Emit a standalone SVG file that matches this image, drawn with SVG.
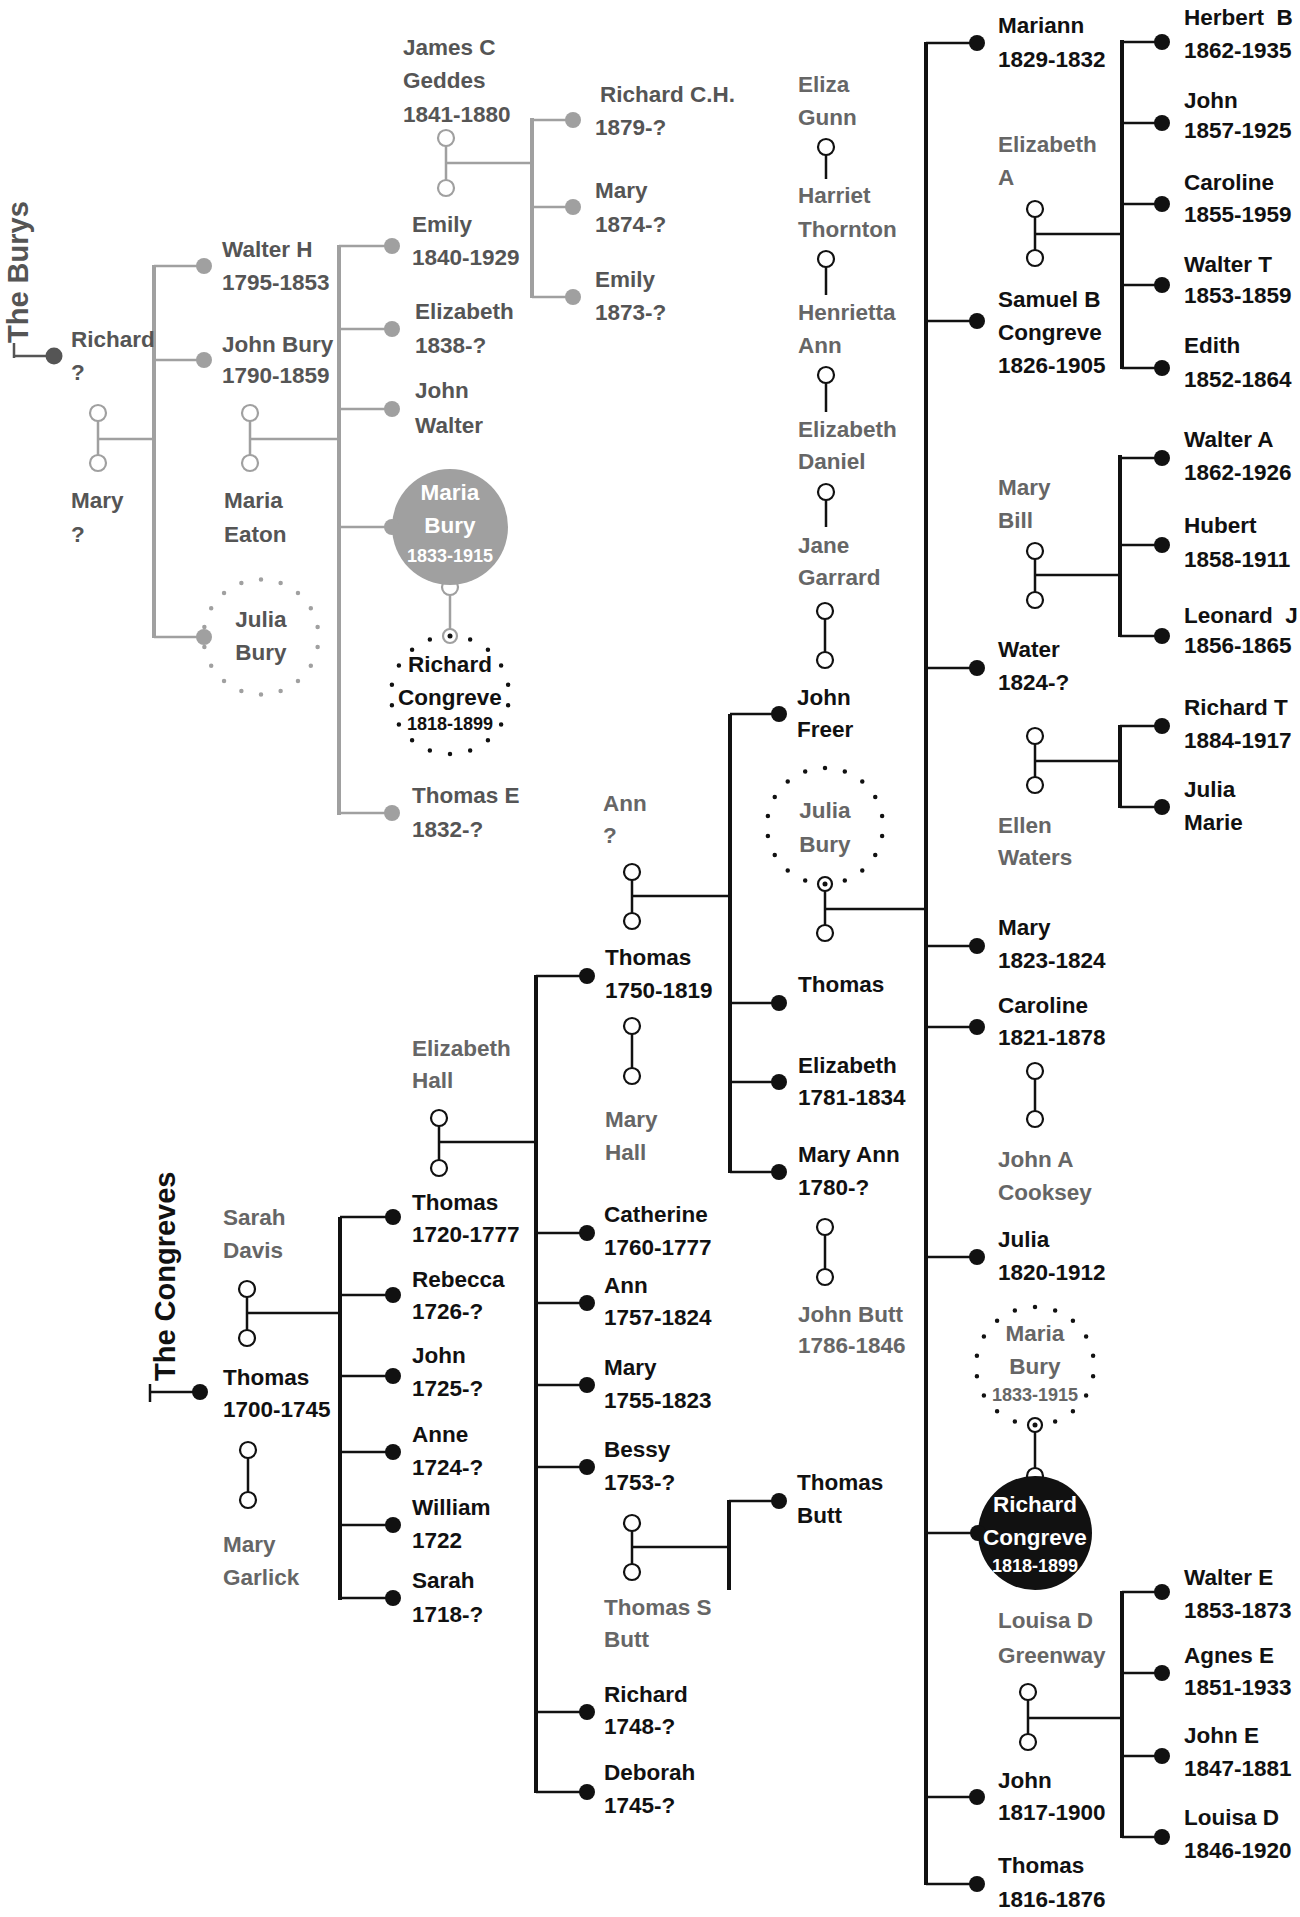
<svg xmlns="http://www.w3.org/2000/svg" width="1300" height="1917" viewBox="0 0 1300 1917">
<style>
.t{font-family:"Liberation Sans",Arial,Helvetica,sans-serif;font-weight:700;font-size:22.5px;fill:#111}
.bg{fill:#555}
.sp{fill:#666}
.wh{fill:#fff}
.f18{font-size:18px}
.c{text-anchor:middle}
.ttl{font-size:29px}
.bus{stroke:#111;stroke-width:4;fill:none}
.br{stroke:#111;stroke-width:2.5;fill:none}
.gbus{stroke:#a0a0a0;stroke-width:4;fill:none}
.gbr{stroke:#a0a0a0;stroke-width:2.5;fill:none}
.dot{fill:#111}
.gdot{fill:#a0a0a0}
.ring{fill:#fff;stroke:#111;stroke-width:2.2}
.gring{fill:#fff;stroke:#a0a0a0;stroke-width:2.2}
.dots{fill:none;stroke:#111;stroke-width:4.5;stroke-linecap:round;stroke-dasharray:0 20;stroke-dashoffset:10}
.gdots{fill:none;stroke:#a0a0a0;stroke-width:4.5;stroke-linecap:round;stroke-dasharray:0 20;stroke-dashoffset:10}
</style>
<rect width="1300" height="1917" fill="#fff"/>

<g id="connectors">
  <!-- Burys -->
  <path d="M14 343V358M14 356H54" stroke="#555" stroke-width="2.5" fill="none"/>
  <line class="gbus" x1="154" y1="265" x2="154" y2="638"/>
  <path class="gbr" d="M154 266H204M154 360H204M154 637H204M98 439H154M98 413V463M250 439H339M250 413V463"/>
  <line class="gbus" x1="339" y1="245" x2="339" y2="815"/>
  <path class="gbr" d="M339 246H392M339 329H392M339 409H392M339 527H392M339 813H392"/>
  <path class="gbr" d="M446 138V188M446 163H532"/>
  <line class="gbus" x1="532" y1="118" x2="532" y2="298"/>
  <path class="gbr" d="M532 120H573M532 207H573M532 297H573"/>
  <path class="gbr" d="M450 587V629"/>
  <circle class="gring" cx="98" cy="413" r="8"/>
  <circle class="gring" cx="98" cy="463" r="8"/>
  <circle class="gring" cx="250" cy="413" r="8"/>
  <circle class="gring" cx="250" cy="463" r="8"/>
  <circle class="gring" cx="446" cy="138" r="8"/>
  <circle class="gring" cx="446" cy="188" r="8"/>
  <circle class="gring" cx="450" cy="587" r="8"/>

  <!-- Congreves -->
  <path d="M150 1384V1402M150 1392H200" stroke="#111" stroke-width="2.5" fill="none"/>
  <line class="bus" x1="340" y1="1217" x2="340" y2="1600"/>
  <path class="br" d="M340 1217H393M340 1295H393M340 1376H393M340 1452H393M340 1525H393M340 1598H393M247 1313H340M247 1289V1338M248 1450V1500"/>
  <line class="bus" x1="536" y1="975" x2="536" y2="1793"/>
  <path class="br" d="M536 976H587M536 1233H587M536 1303H587M536 1385H587M536 1467H587M536 1712H587M536 1792H587M439 1142H536M439 1118V1168"/>
  <line class="bus" x1="730" y1="714" x2="730" y2="1173"/>
  <path class="br" d="M730 714H779M730 1003H779M730 1082H779M730 1172H779M632 896H730M632 872V921M632 1026V1076"/>
  <line class="bus" x1="729" y1="1500" x2="729" y2="1590"/>
  <path class="br" d="M729 1501H779M632 1547H729M632 1523V1572"/>
  <path class="br" d="M826 155V179M826 267V295M826 383V412M826 500V527M825 611V660M825 891V933M825 909H926M825 1227V1277"/>
  <line class="bus" x1="926" y1="42" x2="926" y2="1885"/>
  <path class="br" d="M926 43H977M926 321H977M926 668H977M926 946H977M926 1027H977M926 1257H977M926 1533H978M926 1797H977M926 1884H977"/>
  <path class="br" d="M1035 209V258M1035 234H1122M1035 551V600M1035 575H1120M1035 736V785M1035 761H1120M1035 1071V1119M1028 1692V1742M1028 1718H1122M1035 1432V1476"/>
  <line class="bus" x1="1122" y1="40" x2="1122" y2="369"/>
  <path class="br" d="M1122 42H1162M1122 123H1162M1122 204H1162M1122 285H1162M1122 368H1162"/>
  <line class="bus" x1="1120" y1="455" x2="1120" y2="637"/>
  <path class="br" d="M1120 458H1162M1120 545H1162M1120 636H1162"/>
  <line class="bus" x1="1120" y1="725" x2="1120" y2="808"/>
  <path class="br" d="M1120 726H1162M1120 807H1162"/>
  <line class="bus" x1="1122" y1="1591" x2="1122" y2="1838"/>
  <path class="br" d="M1122 1592H1162M1122 1673H1162M1122 1756H1162M1122 1837H1162"/>
  <circle class="ring" cx="826" cy="147" r="8"/>
  <circle class="ring" cx="826" cy="259" r="8"/>
  <circle class="ring" cx="826" cy="375" r="8"/>
  <circle class="ring" cx="826" cy="492" r="8"/>
  <circle class="ring" cx="825" cy="611" r="8"/>
  <circle class="ring" cx="825" cy="660" r="8"/>
  <circle class="ring" cx="825" cy="933" r="8"/>
  <circle class="ring" cx="825" cy="1227" r="8"/>
  <circle class="ring" cx="825" cy="1277" r="8"/>
  <circle class="ring" cx="632" cy="872" r="8"/>
  <circle class="ring" cx="632" cy="921" r="8"/>
  <circle class="ring" cx="632" cy="1026" r="8"/>
  <circle class="ring" cx="632" cy="1076" r="8"/>
  <circle class="ring" cx="632" cy="1523" r="8"/>
  <circle class="ring" cx="632" cy="1572" r="8"/>
  <circle class="ring" cx="439" cy="1118" r="8"/>
  <circle class="ring" cx="439" cy="1168" r="8"/>
  <circle class="ring" cx="247" cy="1289" r="8"/>
  <circle class="ring" cx="247" cy="1338" r="8"/>
  <circle class="ring" cx="248" cy="1450" r="8"/>
  <circle class="ring" cx="248" cy="1500" r="8"/>
  <circle class="ring" cx="1035" cy="209" r="8"/>
  <circle class="ring" cx="1035" cy="258" r="8"/>
  <circle class="ring" cx="1035" cy="551" r="8"/>
  <circle class="ring" cx="1035" cy="600" r="8"/>
  <circle class="ring" cx="1035" cy="736" r="8"/>
  <circle class="ring" cx="1035" cy="785" r="8"/>
  <circle class="ring" cx="1035" cy="1071" r="8"/>
  <circle class="ring" cx="1035" cy="1119" r="8"/>
  <circle class="ring" cx="1028" cy="1692" r="8"/>
  <circle class="ring" cx="1028" cy="1742" r="8"/>
  <circle class="ring" cx="1035" cy="1476" r="8"/>
</g>

<!-- ===== The Burys ===== -->
<g id="title-burys"><text class="t bg ttl" transform="translate(28 343) rotate(-90)">The Burys</text></g>
<g id="n-richard-bury"><circle cx="54" cy="356" r="8.5" fill="#555"/><text class="t bg"><tspan x="71" y="347">Richard</tspan><tspan x="71" y="380">?</tspan></text></g>
<g id="n-mary-bury"><text class="t bg"><tspan x="71" y="508">Mary</tspan><tspan x="71" y="542">?</tspan></text></g>
<g id="n-walter-h"><circle class="gdot" cx="204" cy="266" r="8"/><text class="t bg"><tspan x="222" y="257">Walter H</tspan><tspan x="222" y="290">1795-1853</tspan></text></g>
<g id="n-john-bury"><circle class="gdot" cx="204" cy="360" r="8"/><text class="t bg"><tspan x="222" y="352">John Bury</tspan><tspan x="222" y="383">1790-1859</tspan></text></g>
<g id="n-maria-eaton"><text class="t bg"><tspan x="224" y="508">Maria</tspan><tspan x="224" y="542">Eaton</tspan></text></g>
<g id="n-julia-bury-1"><circle class="gdots" cx="261" cy="637" r="57.5" pathLength="360"/><circle class="gdot" cx="204" cy="637" r="8"/><text class="t bg c"><tspan x="261" y="627">Julia</tspan><tspan x="261" y="660">Bury</tspan></text></g>
<g id="n-james-geddes"><text class="t bg"><tspan x="403" y="55">James C</tspan><tspan x="403" y="88">Geddes</tspan><tspan x="403" y="122">1841-1880</tspan></text></g>
<g id="n-emily-1840"><circle class="gdot" cx="392" cy="246" r="8"/><text class="t bg"><tspan x="412" y="232">Emily</tspan><tspan x="412" y="265">1840-1929</tspan></text></g>
<g id="n-elizabeth-1838"><circle class="gdot" cx="392" cy="329" r="8"/><text class="t bg"><tspan x="415" y="319">Elizabeth</tspan><tspan x="415" y="353">1838-?</tspan></text></g>
<g id="n-john-walter"><circle class="gdot" cx="392" cy="409" r="8"/><text class="t bg"><tspan x="415" y="398">John</tspan><tspan x="415" y="433">Walter</tspan></text></g>
<g id="n-maria-bury-1"><circle cx="450" cy="527" r="58" fill="#a0a0a0"/><circle class="gdot" cx="392" cy="527" r="8"/><text class="t wh c"><tspan x="450" y="500">Maria</tspan><tspan x="450" y="533">Bury</tspan><tspan x="450" y="562" class="f18">1833-1915</tspan></text></g>
<g id="n-richard-congreve-1"><circle class="dots" cx="450" cy="695" r="59" pathLength="360"/><circle cx="450" cy="636" r="7" fill="#fff" stroke="#a0a0a0" stroke-width="2.2"/><circle class="dot" cx="450" cy="636" r="2.5"/><text class="t c"><tspan x="450" y="672">Richard</tspan><tspan x="450" y="705">Congreve</tspan><tspan x="450" y="730" class="f18">1818-1899</tspan></text></g>
<g id="n-thomas-e"><circle class="gdot" cx="392" cy="813" r="8"/><text class="t bg"><tspan x="412" y="803">Thomas E</tspan><tspan x="412" y="837">1832-?</tspan></text></g>
<g id="n-richard-ch"><circle class="gdot" cx="573" cy="120" r="8"/><text class="t bg"><tspan x="600" y="102">Richard C.H.</tspan><tspan x="595" y="135">1879-?</tspan></text></g>
<g id="n-mary-1874"><circle class="gdot" cx="573" cy="207" r="8"/><text class="t bg"><tspan x="595" y="198">Mary</tspan><tspan x="595" y="232">1874-?</tspan></text></g>
<g id="n-emily-1873"><circle class="gdot" cx="573" cy="297" r="8"/><text class="t bg"><tspan x="595" y="287">Emily</tspan><tspan x="595" y="320">1873-?</tspan></text></g>

<!-- ===== The Congreves ===== -->
<g id="title-congreves"><text class="t ttl" transform="translate(175 1381) rotate(-90)">The Congreves</text></g>
<g id="n-sarah-davis"><text class="t sp"><tspan x="223" y="1225">Sarah</tspan><tspan x="223" y="1258">Davis</tspan></text></g>
<g id="n-thomas-1700"><circle class="dot" cx="200" cy="1392" r="8"/><text class="t"><tspan x="223" y="1385">Thomas</tspan><tspan x="223" y="1417">1700-1745</tspan></text></g>
<g id="n-mary-garlick"><text class="t sp"><tspan x="223" y="1552">Mary</tspan><tspan x="223" y="1585">Garlick</tspan></text></g>

<g id="n-elizabeth-hall"><text class="t sp"><tspan x="412" y="1056">Elizabeth</tspan><tspan x="412" y="1088">Hall</tspan></text></g>
<g id="n-thomas-1720"><circle class="dot" cx="393" cy="1217" r="8"/><text class="t"><tspan x="412" y="1210">Thomas</tspan><tspan x="412" y="1242">1720-1777</tspan></text></g>
<g id="n-rebecca"><circle class="dot" cx="393" cy="1295" r="8"/><text class="t"><tspan x="412" y="1287">Rebecca</tspan><tspan x="412" y="1319">1726-?</tspan></text></g>
<g id="n-john-1725"><circle class="dot" cx="393" cy="1376" r="8"/><text class="t"><tspan x="412" y="1363">John</tspan><tspan x="412" y="1396">1725-?</tspan></text></g>
<g id="n-anne-1724"><circle class="dot" cx="393" cy="1452" r="8"/><text class="t"><tspan x="412" y="1442">Anne</tspan><tspan x="412" y="1475">1724-?</tspan></text></g>
<g id="n-william-1722"><circle class="dot" cx="393" cy="1525" r="8"/><text class="t"><tspan x="412" y="1515">William</tspan><tspan x="412" y="1548">1722</tspan></text></g>
<g id="n-sarah-1718"><circle class="dot" cx="393" cy="1598" r="8"/><text class="t"><tspan x="412" y="1588">Sarah</tspan><tspan x="412" y="1622">1718-?</tspan></text></g>

<g id="n-ann-q"><text class="t sp"><tspan x="603" y="811">Ann</tspan><tspan x="603" y="843">?</tspan></text></g>
<g id="n-thomas-1750"><circle class="dot" cx="587" cy="976" r="8"/><text class="t"><tspan x="605" y="965">Thomas</tspan><tspan x="605" y="998">1750-1819</tspan></text></g>
<g id="n-mary-hall"><text class="t sp"><tspan x="605" y="1127">Mary</tspan><tspan x="605" y="1160">Hall</tspan></text></g>
<g id="n-catherine"><circle class="dot" cx="587" cy="1233" r="8"/><text class="t"><tspan x="604" y="1222">Catherine</tspan><tspan x="604" y="1255">1760-1777</tspan></text></g>
<g id="n-ann-1757"><circle class="dot" cx="587" cy="1303" r="8"/><text class="t"><tspan x="604" y="1293">Ann</tspan><tspan x="604" y="1325">1757-1824</tspan></text></g>
<g id="n-mary-1755"><circle class="dot" cx="587" cy="1385" r="8"/><text class="t"><tspan x="604" y="1375">Mary</tspan><tspan x="604" y="1408">1755-1823</tspan></text></g>
<g id="n-bessy"><circle class="dot" cx="587" cy="1467" r="8"/><text class="t"><tspan x="604" y="1457">Bessy</tspan><tspan x="604" y="1490">1753-?</tspan></text></g>
<g id="n-thomas-s-butt"><text class="t sp"><tspan x="604" y="1615">Thomas S</tspan><tspan x="604" y="1647">Butt</tspan></text></g>
<g id="n-richard-1748"><circle class="dot" cx="587" cy="1712" r="8"/><text class="t"><tspan x="604" y="1702">Richard</tspan><tspan x="604" y="1734">1748-?</tspan></text></g>
<g id="n-deborah"><circle class="dot" cx="587" cy="1792" r="8"/><text class="t"><tspan x="604" y="1780">Deborah</tspan><tspan x="604" y="1813">1745-?</tspan></text></g>

<g id="n-eliza-gunn"><text class="t sp"><tspan x="798" y="92">Eliza</tspan><tspan x="798" y="125">Gunn</tspan></text></g>
<g id="n-harriet-thornton"><text class="t sp"><tspan x="798" y="203">Harriet</tspan><tspan x="798" y="237">Thornton</tspan></text></g>
<g id="n-henrietta-ann"><text class="t sp"><tspan x="798" y="320">Henrietta</tspan><tspan x="798" y="353">Ann</tspan></text></g>
<g id="n-elizabeth-daniel"><text class="t sp"><tspan x="798" y="437">Elizabeth</tspan><tspan x="798" y="469">Daniel</tspan></text></g>
<g id="n-jane-garrard"><text class="t sp"><tspan x="798" y="553">Jane</tspan><tspan x="798" y="585">Garrard</tspan></text></g>
<g id="n-john-freer"><circle class="dot" cx="779" cy="714" r="8"/><text class="t"><tspan x="797" y="705">John</tspan><tspan x="797" y="737">Freer</tspan></text></g>
<g id="n-julia-bury-2"><circle class="dots" cx="825" cy="826" r="58" pathLength="360"/><circle class="ring" cx="825" cy="884" r="7"/><circle class="dot" cx="825" cy="884" r="2.5"/><text class="t sp c"><tspan x="825" y="818">Julia</tspan><tspan x="825" y="852">Bury</tspan></text></g>
<g id="n-thomas-son"><circle class="dot" cx="779" cy="1003" r="8"/><text class="t" x="798" y="992">Thomas</text></g>
<g id="n-elizabeth-1781"><circle class="dot" cx="779" cy="1082" r="8"/><text class="t"><tspan x="798" y="1073">Elizabeth</tspan><tspan x="798" y="1105">1781-1834</tspan></text></g>
<g id="n-mary-ann-1780"><circle class="dot" cx="779" cy="1172" r="8"/><text class="t"><tspan x="798" y="1162">Mary Ann</tspan><tspan x="798" y="1195">1780-?</tspan></text></g>
<g id="n-john-butt"><text class="t sp"><tspan x="798" y="1322">John Butt</tspan><tspan x="798" y="1353">1786-1846</tspan></text></g>
<g id="n-thomas-butt"><circle class="dot" cx="779" cy="1501" r="8"/><text class="t"><tspan x="797" y="1490">Thomas</tspan><tspan x="797" y="1523">Butt</tspan></text></g>

<g id="n-mariann"><circle class="dot" cx="977" cy="43" r="8"/><text class="t"><tspan x="998" y="33">Mariann</tspan><tspan x="998" y="67">1829-1832</tspan></text></g>
<g id="n-elizabeth-a"><text class="t sp"><tspan x="998" y="152">Elizabeth</tspan><tspan x="998" y="185">A</tspan></text></g>
<g id="n-samuel-b"><circle class="dot" cx="977" cy="321" r="8"/><text class="t"><tspan x="998" y="307">Samuel B</tspan><tspan x="998" y="340">Congreve</tspan><tspan x="998" y="373">1826-1905</tspan></text></g>
<g id="n-mary-bill"><text class="t sp"><tspan x="998" y="495">Mary</tspan><tspan x="998" y="528">Bill</tspan></text></g>
<g id="n-water"><circle class="dot" cx="977" cy="668" r="8"/><text class="t"><tspan x="998" y="657">Water</tspan><tspan x="998" y="690">1824-?</tspan></text></g>
<g id="n-ellen-waters"><text class="t sp"><tspan x="998" y="833">Ellen</tspan><tspan x="998" y="865">Waters</tspan></text></g>
<g id="n-mary-1823"><circle class="dot" cx="977" cy="946" r="8"/><text class="t"><tspan x="998" y="935">Mary</tspan><tspan x="998" y="968">1823-1824</tspan></text></g>
<g id="n-caroline-1821"><circle class="dot" cx="977" cy="1027" r="8"/><text class="t"><tspan x="998" y="1013">Caroline</tspan><tspan x="998" y="1045">1821-1878</tspan></text></g>
<g id="n-john-a-cooksey"><text class="t sp"><tspan x="998" y="1167">John A</tspan><tspan x="998" y="1200">Cooksey</tspan></text></g>
<g id="n-julia-1820"><circle class="dot" cx="977" cy="1257" r="8"/><text class="t"><tspan x="998" y="1247">Julia</tspan><tspan x="998" y="1280">1820-1912</tspan></text></g>
<g id="n-maria-bury-2"><circle class="dots" cx="1035" cy="1366" r="59" pathLength="360"/><circle class="ring" cx="1035" cy="1425" r="7"/><circle class="dot" cx="1035" cy="1425" r="2.5"/><text class="t sp c"><tspan x="1035" y="1341">Maria</tspan><tspan x="1035" y="1374">Bury</tspan><tspan x="1035" y="1401" class="f18">1833-1915</tspan></text></g>
<g id="n-richard-congreve-2"><circle cx="1035" cy="1533" r="57" fill="#111"/><circle class="dot" cx="978" cy="1533" r="8"/><text class="t wh c"><tspan x="1035" y="1512">Richard</tspan><tspan x="1035" y="1545">Congreve</tspan><tspan x="1035" y="1572" class="f18">1818-1899</tspan></text></g>
<g id="n-louisa-greenway"><text class="t sp"><tspan x="998" y="1628">Louisa D</tspan><tspan x="998" y="1663">Greenway</tspan></text></g>
<g id="n-john-1817"><circle class="dot" cx="977" cy="1797" r="8"/><text class="t"><tspan x="998" y="1788">John</tspan><tspan x="998" y="1820">1817-1900</tspan></text></g>
<g id="n-thomas-1816"><circle class="dot" cx="977" cy="1884" r="8"/><text class="t"><tspan x="998" y="1873">Thomas</tspan><tspan x="998" y="1907">1816-1876</tspan></text></g>

<g id="n-herbert-b"><circle class="dot" cx="1162" cy="42" r="8"/><text class="t" xml:space="preserve"><tspan x="1184" y="25">Herbert  B</tspan><tspan x="1184" y="58">1862-1935</tspan></text></g>
<g id="n-john-1857"><circle class="dot" cx="1162" cy="123" r="8"/><text class="t"><tspan x="1184" y="108">John</tspan><tspan x="1184" y="138">1857-1925</tspan></text></g>
<g id="n-caroline-1855"><circle class="dot" cx="1162" cy="204" r="8"/><text class="t"><tspan x="1184" y="190">Caroline</tspan><tspan x="1184" y="222">1855-1959</tspan></text></g>
<g id="n-walter-t"><circle class="dot" cx="1162" cy="285" r="8"/><text class="t"><tspan x="1184" y="272">Walter T</tspan><tspan x="1184" y="303">1853-1859</tspan></text></g>
<g id="n-edith"><circle class="dot" cx="1162" cy="368" r="8"/><text class="t"><tspan x="1184" y="353">Edith</tspan><tspan x="1184" y="387">1852-1864</tspan></text></g>
<g id="n-walter-a"><circle class="dot" cx="1162" cy="458" r="8"/><text class="t"><tspan x="1184" y="447">Walter A</tspan><tspan x="1184" y="480">1862-1926</tspan></text></g>
<g id="n-hubert"><circle class="dot" cx="1162" cy="545" r="8"/><text class="t"><tspan x="1184" y="533">Hubert</tspan><tspan x="1184" y="567">1858-1911</tspan></text></g>
<g id="n-leonard-j"><circle class="dot" cx="1162" cy="636" r="8"/><text class="t" xml:space="preserve"><tspan x="1184" y="623">Leonard  J</tspan><tspan x="1184" y="653">1856-1865</tspan></text></g>
<g id="n-richard-t"><circle class="dot" cx="1162" cy="726" r="8"/><text class="t"><tspan x="1184" y="715">Richard T</tspan><tspan x="1184" y="748">1884-1917</tspan></text></g>
<g id="n-julia-marie"><circle class="dot" cx="1162" cy="807" r="8"/><text class="t"><tspan x="1184" y="797">Julia</tspan><tspan x="1184" y="830">Marie</tspan></text></g>
<g id="n-walter-e"><circle class="dot" cx="1162" cy="1592" r="8"/><text class="t"><tspan x="1184" y="1585">Walter E</tspan><tspan x="1184" y="1618">1853-1873</tspan></text></g>
<g id="n-agnes-e"><circle class="dot" cx="1162" cy="1673" r="8"/><text class="t"><tspan x="1184" y="1663">Agnes E</tspan><tspan x="1184" y="1695">1851-1933</tspan></text></g>
<g id="n-john-e"><circle class="dot" cx="1162" cy="1756" r="8"/><text class="t"><tspan x="1184" y="1743">John E</tspan><tspan x="1184" y="1776">1847-1881</tspan></text></g>
<g id="n-louisa-d"><circle class="dot" cx="1162" cy="1837" r="8"/><text class="t"><tspan x="1184" y="1825">Louisa D</tspan><tspan x="1184" y="1858">1846-1920</tspan></text></g>
</svg>
